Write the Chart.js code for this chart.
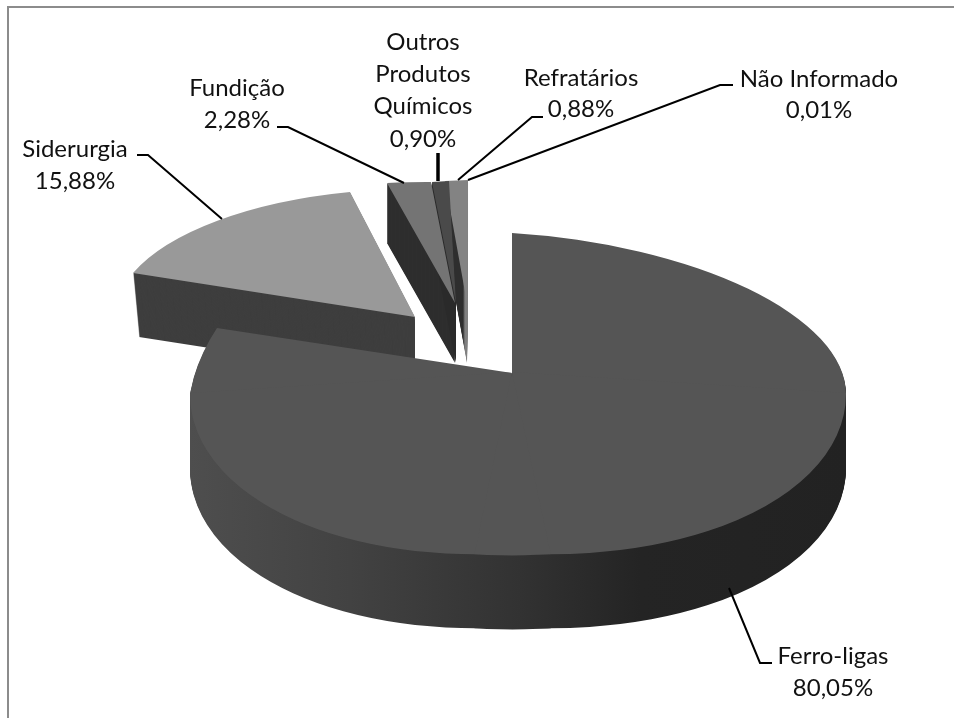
<!DOCTYPE html>
<html><head><meta charset="utf-8">
<style>html,body{margin:0;padding:0;background:#fff}canvas{display:block}</style>
<script src="https://cdn.jsdelivr.net/npm/chart.js@4/dist/chart.umd.min.js"></script>
</head><body><canvas id="c" width="954" height="718"></canvas>
<script>
const categories = ['Ferro-ligas','Siderurgia','Fundição','Outros Produtos Químicos','Refratários','Não Informado'];
const shares = [80.05,15.88,2.28,0.90,0.88,0.01];
const topColors = ['#555555','#999999','#747474','#4a4a4a','#838383','#838383'];
const wallColors = ['#3a3a3a','#3e3e3e','#2e2e2e','#2c2c2c','#3a3a3a','#3a3a3a'];

// label texts and layout
const labelBlocks = [
  {lines:['Ferro-ligas','80,05%'], x:833, y:[664,696]},
  {lines:['Siderurgia','15,88%'], x:75, y:[157,189]},
  {lines:['Fundição','2,28%'], x:237, y:[96,128]},
  {lines:['Outros','Produtos','Químicos','0,90%'], x:423, y:[50,82,114,147]},
  {lines:['Refratários','0,88%'], x:581, y:[86,117]},
  {lines:['Não Informado','0,01%'], x:819, y:[87,118]}
];
const leaders = [
  {w:2,p:[[729,588],[760,663],[772,663]]},
  {w:2,p:[[137,155],[148,155],[222,219]]},
  {w:2,p:[[277,127],[288,127],[404,183]]},
  {w:3.5,p:[[438,153],[438,181]]},
  {w:2,p:[[543,117],[532,117],[458,180]]},
  {w:2,p:[[733,85],[720,85],[468,180]]}
];
// 3D projection of each slice: apex position, depth vector, two angle->vector anchors per piece
const views = [
  {apex:[512,373], depth:[0,74], wallStops:[[190,'#4e4e4e'],[350,'#424242'],[520,'#323232'],[640,'#242424'],[850,'#222222']],
   pieces:[
    {clip:[[0,0],[-966,63],[-966,-1000],[0,-1000]], a:[270,[-322,21]], b:[288.18,[-295,-45]]},
    {clip:[[0,0],[0,-1000],[1002,-1000],[1002,63]], a:[0,[0,-140]], b:[90,[334,21]]},
    {clip:[[0,-1],[1002,62],[1002,1000],[100,1000]], a:[90,[334,21]], b:[180,[0,180]]},
    {clip:[[0,-1],[-100,1000],[-966,1000],[-966,62]], a:[180,[0,180]], b:[270,[-322,21]]},
    {clip:[[0,-1],[213,1000],[-206,1000]], a:[173.35,[38.7,181.2]], b:[186.65,[-37.3,181.2]]}
   ]},
  {apex:[415,317], depth:[6,64], wallMaxX:415, pieces:[{a:[288.18,[-282,-44]], b:[345.35,[-65,-125]]}]},
  {apex:[455,303], depth:[0,60], pieces:[{a:[345.35,[-68,-120]], b:[353.56,[-24,-121]]}]},
  {apex:[456,303], depth:[0,60], pieces:[{a:[353.56,[-24,-121]], b:[356.8,[-7,-122]]}]},
  {apex:[467,303], depth:[0,60], wallStops:[[456,'#2e2e2e'],[463,'#2e2e2e'],[465,'#808080'],[468,'#808080']],
   pieces:[{a:[356.8,[-22,-122]], b:[359.96,[1,-123]]}]},
  {apex:[467,303], depth:[0,0], pieces:[{a:[359.96,[1,-123]], b:[360,[1,-123]]}]}
];
const wallOrder = [1,4,2,3];
const topOrder = [1,4,5,2,3];
const frontSlice = 0;

function solve(piece){
  const u=t=>{const r=t*Math.PI/180;return [Math.sin(r),-Math.cos(r)];};
  const [ax,ay]=u(piece.a[0]),[bx,by]=u(piece.b[0]);
  const [px,py]=piece.a[1],[qx,qy]=piece.b[1];
  const det=ax*by-bx*ay;
  return {a:(px*by-qx*ay)/det, c:(ax*qx-bx*px)/det, b:(py*by-qy*ay)/det, d:(ax*qy-bx*py)/det};
}
function drawArc(ctx,arc,view,piece,ox,oy,fill){
  const m=solve(piece), R=arc.outerRadius, Ax=view.apex[0]+ox, Ay=view.apex[1]+oy;
  ctx.save();
  if(piece.clip){
    ctx.beginPath();
    piece.clip.forEach((q,i)=>i?ctx.lineTo(Ax+q[0],Ay+q[1]):ctx.moveTo(Ax+q[0],Ay+q[1]));
    ctx.closePath();
    ctx.clip();
  }
  const a=m.a/R,b=m.b/R,c=m.c/R,d=m.d/R;
  const e=Ax-(a*arc.x+c*arc.y), f=Ay-(b*arc.x+d*arc.y);
  ctx.setTransform(a,b,c,d,e,f);
  let bg=fill;
  if(Array.isArray(fill)){
    const x0=fill[0][0],x1=fill[fill.length-1][0],k=a*a+c*c;
    const lx=(x0-e)*a/k, ly=(x0-e)*c/k, s=(x1-x0)/k;
    bg=ctx.createLinearGradient(lx,ly,lx+a*s,ly+c*s);
    fill.forEach(st=>bg.addColorStop((st[0]-x0)/(x1-x0),st[1]));
  }
  const o=arc.options;
  arc.options=Object.create(o,{backgroundColor:{value:bg},borderWidth:{value:0}});
  arc.draw(ctx);
  arc.options=o;
  ctx.restore();
}
function drawWall(ctx,arc,v,fill){
  const n=Math.abs(v.depth[1]);
  ctx.save();
  if(v.wallMaxX){ctx.beginPath();ctx.rect(0,0,v.wallMaxX,718);ctx.clip();}
  for(let t=n;t>=1;t--){
    const ox=v.depth[0]*t/n, oy=v.depth[1]*t/n;
    v.pieces.forEach(p=>drawArc(ctx,arc,v,p,ox,oy,fill));
  }
  ctx.restore();
}
const pie3d={
  id:'pie3d',
  beforeDatasetsDraw(chart){
    const ctx=chart.ctx, arcs=chart.getDatasetMeta(0).data;
    wallOrder.forEach(i=>drawWall(ctx,arcs[i],views[i],views[i].wallStops||wallColors[i]));
    topOrder.forEach(i=>views[i].pieces.forEach(p=>drawArc(ctx,arcs[i],views[i],p,0,0,topColors[i])));
    const v=views[frontSlice];
    drawWall(ctx,arcs[frontSlice],v,v.wallStops);
    v.pieces.forEach(p=>drawArc(ctx,arcs[frontSlice],v,p,0,0,topColors[frontSlice]));
    return false;
  },
  afterDraw(chart){
    const ctx=chart.ctx;
    ctx.save();
    ctx.fillStyle='#8c8c8c';
    ctx.fillRect(7,6,947,2);
    ctx.fillRect(7,6,2,712);
    ctx.strokeStyle='#000'; ctx.lineJoin='miter';
    leaders.forEach(l=>{
      ctx.lineWidth=l.w; ctx.beginPath();
      l.p.forEach((q,i)=>i?ctx.lineTo(q[0],q[1]):ctx.moveTo(q[0],q[1]));
      ctx.stroke();
    });
    ctx.fillStyle='#111'; ctx.font='24px Lato'; ctx.textAlign='center'; ctx.textBaseline='alphabetic';
    labelBlocks.forEach(b=>b.lines.forEach((s,i)=>ctx.fillText(s,b.x,b.y[i])));
    ctx.restore();
  }
};
new Chart(document.getElementById('c'),{
  type:'pie',
  data:{labels:categories,datasets:[{data:shares,backgroundColor:topColors,borderWidth:0,clip:false}]},
  options:{responsive:false,animation:false,events:[],plugins:{legend:{display:false},tooltip:{enabled:false}}},
  plugins:[pie3d]
});
</script></body></html>
